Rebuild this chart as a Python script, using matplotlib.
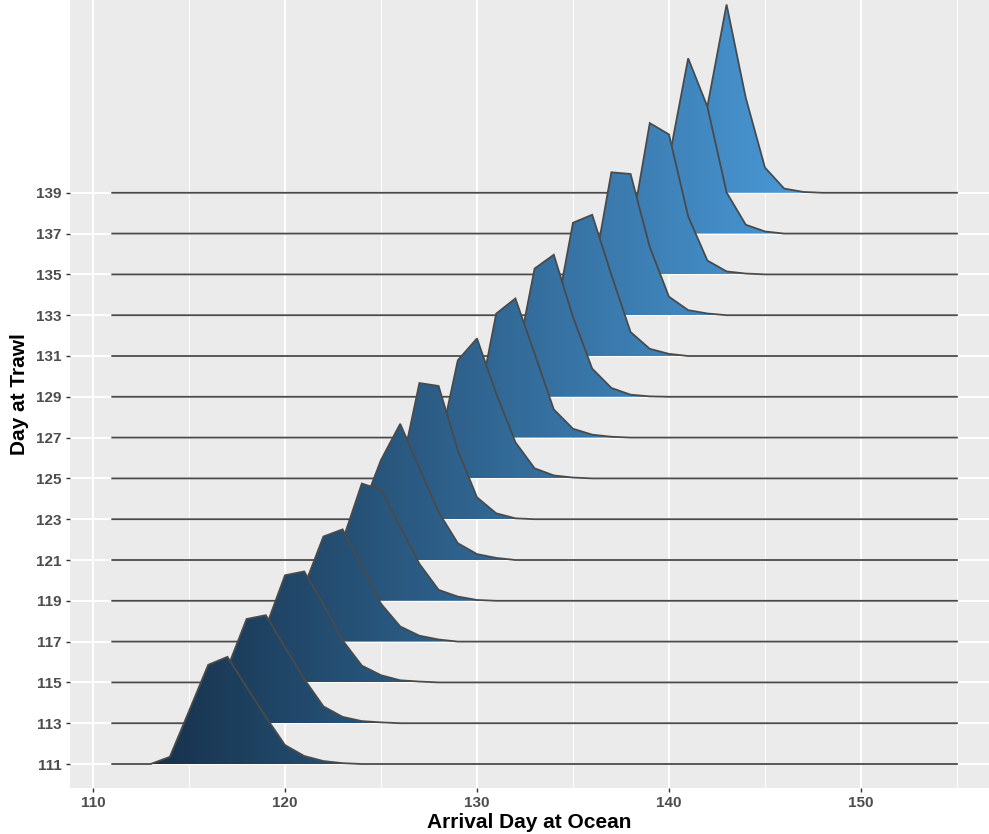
import numpy as np
import matplotlib
matplotlib.use("Agg")
import matplotlib.pyplot as plt
from matplotlib.patches import Polygon
from matplotlib.colors import LinearSegmentedColormap

# ---- data ----
trawl_days = [111, 113, 115, 117, 119, 121, 123, 125, 127, 129, 131, 133, 135, 137, 139]
start_days = [113, 115, 117, 119, 121, 122, 124, 126, 128, 130, 132, 134, 136, 138, 140]
# percent of fish arriving on each consecutive day, beginning at start_days
density_pct = [
    [0, 1.7, 12.6, 23.6, 25.5, 18.3, 11.2, 4.5, 1.9, 0.7, 0.2, 0],
    [0, 1.7, 13.1, 24.8, 25.7, 18.1, 10.5, 4.0, 1.5, 0.5, 0.2, 0],
    [0, 1.7, 13.1, 25.5, 26.4, 18.6, 10.0, 4.0, 1.7, 0.5, 0.2, 0],
    [0, 1.7, 13.1, 25.0, 26.7, 17.9, 9.0, 3.6, 1.4, 0.5, 0],
    [0, 1.9, 14.3, 27.9, 26.4, 17.6, 8.8, 2.6, 1.0, 0.2, 0],
    [0, 1.9, 11.9, 23.8, 32.4, 21.9, 11.4, 4.0, 1.4, 0.5, 0],
    [0, 1.2, 10.7, 32.4, 31.7, 16.4, 5.2, 1.4, 0.2, 0],
    [0, 0.7, 6.7, 28.1, 33.3, 20.2, 8.6, 2.4, 0.7, 0.2, 0],
    [0, 0.7, 6.0, 29.5, 33.1, 20.0, 6.7, 2.1, 0.7, 0.2, 0],
    [0, 0.7, 7.1, 30.5, 33.8, 19.0, 6.7, 2.1, 0.5, 0.1, 0],
    [0, 0.7, 7.1, 31.7, 33.6, 19.3, 5.7, 1.7, 0.5, 0],
    [0, 0.7, 8.3, 34.0, 33.6, 16.2, 4.4, 1.2, 0.4, 0],
    [0, 1.2, 9.5, 36.0, 33.3, 13.8, 3.3, 0.7, 0.2, 0],
    [0, 2.4, 17.6, 41.7, 30.2, 9.8, 2.1, 0.5, 0],
    [0, 4.8, 20.5, 44.8, 22.6, 6.0, 1.0, 0.2, 0],
]
x_range = [111, 155]
x_ticks = [110, 120, 130, 140, 150]
x_minor = [115, 125, 135, 145, 155]

# ---- style ----
SCALE = 0.103          # row units per percent
LOW, HIGH = "#132B43", "#56B1F7"
cmap = LinearSegmentedColormap.from_list("gg", [LOW, HIGH])
plt.rcParams["font.family"] = ["Liberation Sans", "DejaVu Sans"]

W, H = 989, 834
fig = plt.figure(figsize=(W / 100, H / 100), dpi=100)
ax = fig.add_axes([70 / W, 46 / H, 1 - 70 / W, 1 - 46 / H])
ax.set_facecolor("#EBEBEB")
for s in ax.spines.values():
    s.set_visible(False)

x = np.arange(x_range[0], x_range[1] + 1)
grad = np.linspace(0, 1, 600).reshape(1, -1)
n = len(trawl_days)
for k in range(n):
    y = np.zeros_like(x, dtype=float)
    vals = np.array(density_pct[k]) * SCALE
    i0 = start_days[k] - x_range[0]
    y[i0:i0 + len(vals)] = vals
    top = k + y
    verts = list(zip(x, top)) + [(x[-1], k), (x[0], k)]
    poly = Polygon(verts, closed=True, facecolor="none", edgecolor="none")
    ax.add_patch(poly)
    z = 50 - 2 * k
    im = ax.imshow(grad, extent=[x_range[0], x_range[1], k, k + y.max() + 0.05],
                   aspect="auto", cmap=cmap, origin="lower", zorder=z,
                   interpolation="bilinear")
    im.set_clip_path(poly)
    ax.plot(x, top, color="#4a4a4a", lw=1.3, zorder=z + 1, solid_joinstyle="miter")

ax.set_xlim(108.80, 156.67)
ax.set_ylim(-0.588, 18.725)

ax.set_xticks(x_ticks)
ax.set_xticks(x_minor, minor=True)
ax.set_yticks(range(n))
ax.set_yticklabels([str(d) for d in trawl_days])
ax.grid(which="major", color="white", lw=1.4, zorder=0)
ax.grid(which="minor", axis="x", color="white", lw=0.7, zorder=0)
ax.set_axisbelow(True)
ax.tick_params(which="major", length=3, width=1, color="#333333",
               labelsize=11, labelcolor="#4D4D4D", pad=3)
ax.tick_params(which="minor", length=0)
for lab in ax.get_xticklabels() + ax.get_yticklabels():
    lab.set_fontweight("bold")

ax.set_xlabel("Arrival Day at Ocean", fontsize=15, fontweight="bold", labelpad=2)
ax.set_ylabel("Day at Trawl", fontsize=15, fontweight="bold", labelpad=5)

fig.savefig("out.png", dpi=100)
